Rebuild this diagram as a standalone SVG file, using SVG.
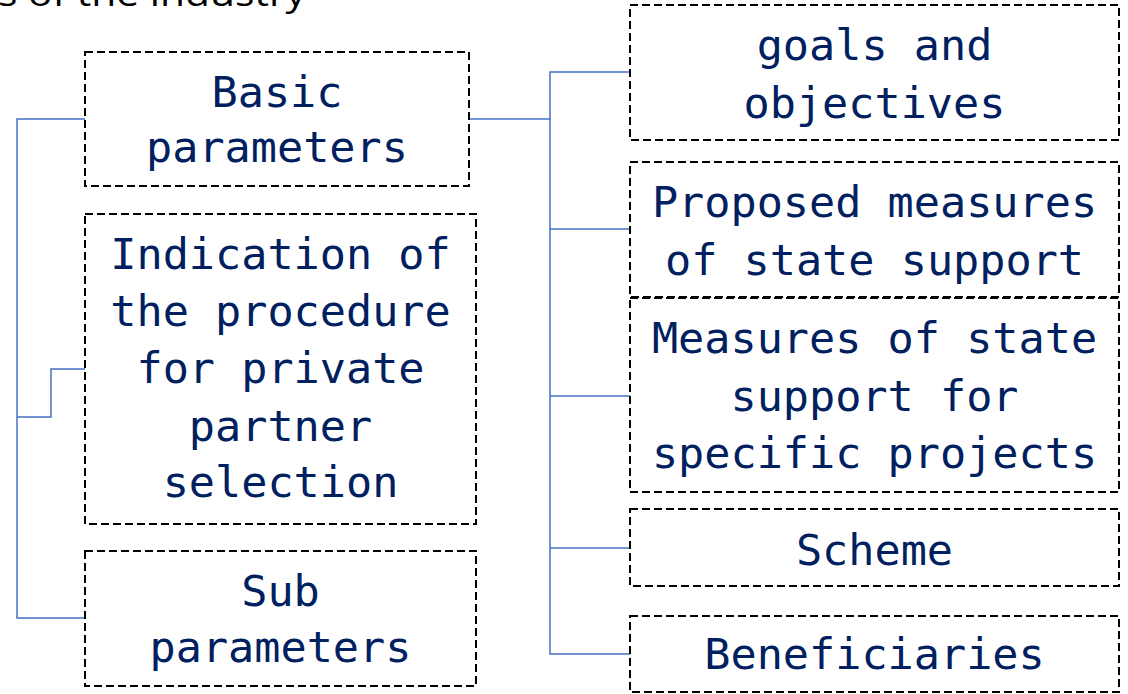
<svg xmlns="http://www.w3.org/2000/svg" width="1128" height="694" viewBox="0 0 1128 694">
<style>
.box{fill:none;stroke:#000;stroke-width:2;stroke-dasharray:8 4}
.t{font-family:"DejaVu Sans Mono","Liberation Mono",monospace;font-size:43.5px;fill:#002060;text-anchor:middle}
.c{fill:none;stroke:#4472C4;stroke-width:1.5}
</style>
<rect width="1128" height="694" fill="#fff"/>
<text x="-2" y="6" font-family="'Open Sans','Liberation Sans',sans-serif" font-size="34" fill="#000" textLength="308" lengthAdjust="spacingAndGlyphs">s of the industry</text>
<g id="connectors">
<polyline class="c" points="85,119 17,119 17,618 85,618"/>
<polyline class="c" points="17,417 51,417 51,369 85,369"/>
<polyline class="c" points="469,119 550,119"/>
<polyline class="c" points="630,72 550,72 550,654 630,654"/>
<line class="c" x1="550" y1="229" x2="630" y2="229"/>
<line class="c" x1="550" y1="396" x2="630" y2="396"/>
<line class="c" x1="550" y1="548" x2="630" y2="548"/>
</g>
<g id="basic">
<rect class="box" x="85" y="52" width="384" height="134"/>
<text class="t" x="277" y="107">Basic</text>
<text class="t" x="277" y="162">parameters</text>
</g>
<g id="indication">
<rect class="box" x="85" y="214" width="391" height="310"/>
<text class="t" x="280.5" y="269">Indication of</text>
<text class="t" x="280.5" y="326">the procedure</text>
<text class="t" x="280.5" y="383">for private</text>
<text class="t" x="280.5" y="441">partner</text>
<text class="t" x="280.5" y="497">selection</text>
</g>
<g id="sub">
<rect class="box" x="85" y="551" width="391" height="135"/>
<text class="t" x="280.5" y="606">Sub</text>
<text class="t" x="280.5" y="662">parameters</text>
</g>
<g id="goals">
<rect class="box" x="630" y="5" width="489" height="135"/>
<text class="t" x="874.5" y="60">goals and</text>
<text class="t" x="874.5" y="118">objectives</text>
</g>
<g id="proposed">
<rect class="box" x="630" y="162" width="489" height="135"/>
<text class="t" x="874.5" y="217">Proposed measures</text>
<text class="t" x="874.5" y="275">of state support</text>
</g>
<g id="measures">
<rect class="box" x="630" y="298" width="489" height="194"/>
<text class="t" x="874.5" y="353">Measures of state</text>
<text class="t" x="874.5" y="411">support for</text>
<text class="t" x="874.5" y="468">specific projects</text>
</g>
<g id="scheme">
<rect class="box" x="630" y="509" width="489" height="77"/>
<text class="t" x="874.5" y="565">Scheme</text>
</g>
<g id="beneficiaries">
<rect class="box" x="630" y="616" width="489" height="76"/>
<text class="t" x="874.5" y="669">Beneficiaries</text>
</g>
</svg>
